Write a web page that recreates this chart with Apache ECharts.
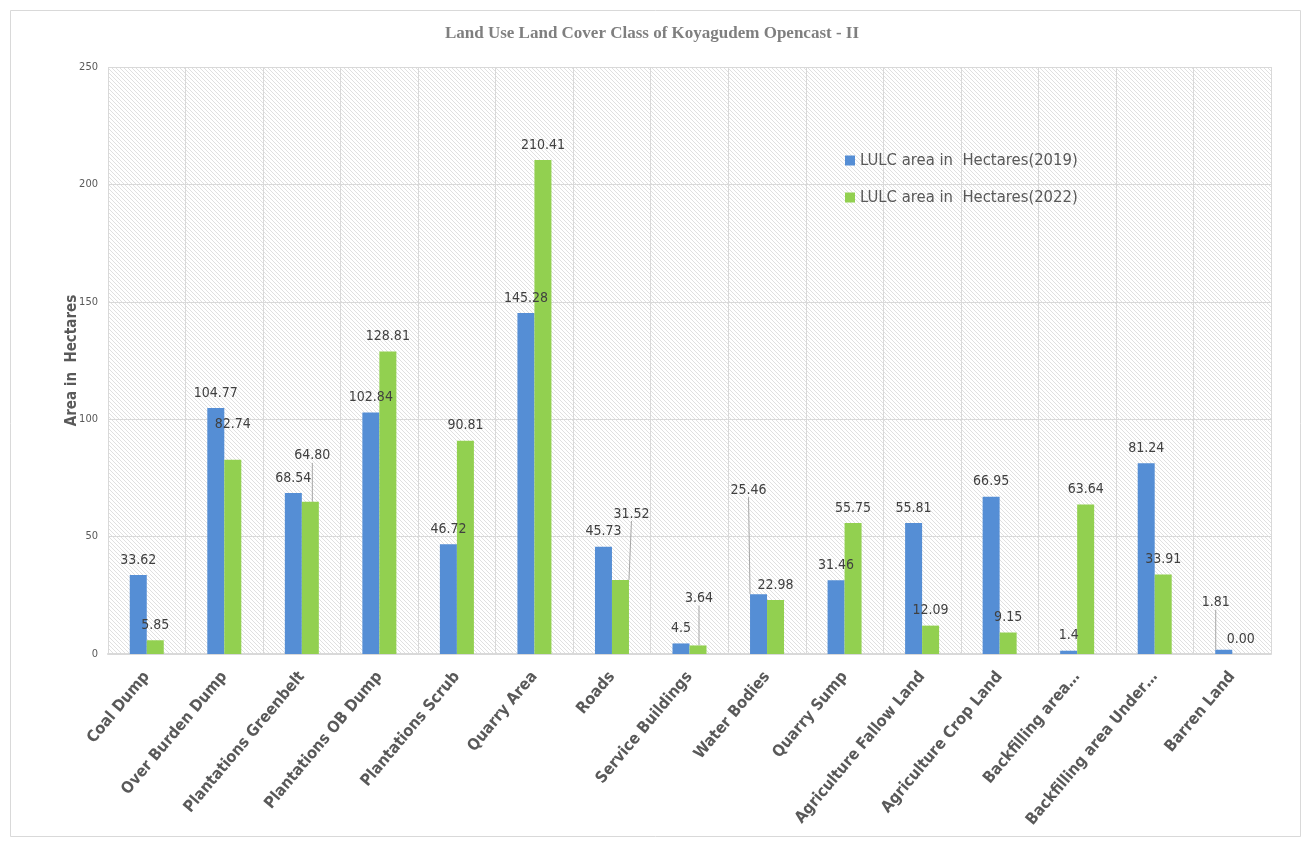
<!DOCTYPE html>
<html>
<head>
<meta charset="utf-8">
<script src="https://cdn.jsdelivr.net/npm/echarts@6/dist/echarts.min.js"></script>
<style>
html,body{margin:0;padding:0;background:#fff;}
#chart{width:1304px;height:841px;}
</style>
</head>
<body>
<div id="chart"></div>
<script>
var categories = ["Coal Dump","Over Burden Dump","Plantations Greenbelt","Plantations OB Dump","Plantations Scrub","Quarry Area","Roads","Service Buildings","Water Bodies","Quarry Sump","Agriculture Fallow Land","Agriculture Crop Land","Backfilling area\u2026","Backfilling area Under\u2026","Barren Land"];
var values2019 = [33.62,104.77,68.54,102.84,46.72,145.28,45.73,4.5,25.46,31.46,55.81,66.95,1.4,81.24,1.81];
var values2022 = [5.85,82.74,64.80,128.81,90.81,210.41,31.52,3.64,22.98,55.75,12.09,9.15,63.64,33.91,0.00];
var seriesNames = ["LULC area in  Hectares(2019)","LULC area in  Hectares(2022)"];
var yTicks = [0,50,100,150,200,250];

// label displacement (px) and leader lines, separate from data
var labelShift2019 = {8:[-10,-89],14:[-8,-32]};
var labelShift2022 = {1:[0,-20],2:[2,-31],6:[11,-51],7:[1,-32]};
var leader2019 = [8,14];
var leader2022 = [2,6,7];

var pat = document.createElement('canvas');
pat.width = 4; pat.height = 4;
var pc = pat.getContext('2d');
pc.fillStyle = '#ffffff'; pc.fillRect(0,0,4,4);
pc.fillStyle = '#e0e0e0';
for (var i=0;i<4;i++){ pc.fillRect(i,i,1,1); }

function buildData(vals, leaders){
  return vals.map(function(v,i){
    var o = {value:v};
    if (leaders.indexOf(i) >= 0) o.labelLine = {show:true};
    return o;
  });
}

var FONT = 'Liberation Sans Narrow, DejaVu Sans Condensed, Liberation Sans, sans-serif';
var chart = echarts.init(document.getElementById('chart'));
var labelFont = {show:true, position:'top', distance:8, color:'#404040', fontSize:14, fontFamily:FONT};
chart.setOption({
  animation:false,
  backgroundColor:'#ffffff',
  title:{text:'Land Use Land Cover Class of Koyagudem Opencast - II', left:'center', top:20,
    textStyle:{fontFamily:'Liberation Serif, serif', fontWeight:'bold', fontSize:17, color:'#7f7f7f'}},
  legend:{orient:'vertical', left:840, top:147, itemWidth:10, itemHeight:10, itemGap:20, icon:'rect',
    textStyle:{fontSize:16.5, color:'#595959', fontFamily:FONT},
    data:seriesNames},
  graphic:[{type:'rect', shape:{x:10.5,y:10.5,width:1290,height:826}, style:{fill:'none', stroke:'#d9d9d9', lineWidth:1}, silent:true}],
  grid:{left:108, right:33, top:67, bottom:187, show:true, backgroundColor:{image:pat, repeat:'repeat'}, borderWidth:0},
  xAxis:{type:'category', data:categories,
    axisLine:{lineStyle:{color:'#d9d9d9', width:2}}, axisTick:{show:false},
    splitLine:{show:true, lineStyle:{color:'#d9d9d9', width:1}},
    axisLabel:{rotate:50, margin:20, interval:0, fontSize:16, fontWeight:'bold', color:'#595959', fontFamily:FONT}},
  yAxis:{type:'value', min:yTicks[0], max:yTicks[yTicks.length-1], interval:50,
    name:'Area in  Hectares', nameLocation:'middle', nameGap:28, nameRotate:90, nameMoveOverlap:false,
    nameTextStyle:{fontSize:15, fontWeight:'bold', color:'#595959', fontFamily:FONT},
    axisLine:{show:false}, axisTick:{show:false},
    splitLine:{lineStyle:{color:'#d9d9d9', width:1}},
    axisLabel:{fontSize:11, color:'#595959', margin:10, fontFamily:FONT}},
  series:[
    {name:seriesNames[0], type:'bar', barWidth:17, barGap:'0%', itemStyle:{color:'#558ed5'},
     data:buildData(values2019, leader2019),
     label:Object.assign({formatter:function(p){return String(p.value);}}, labelFont),
     labelLine:{show:false, lineStyle:{color:'#a6a6a6', width:1}},
     labelLayout:function(p){var s=labelShift2019[p.dataIndex]; return s?{dx:s[0],dy:s[1]}:{};}},
    {name:seriesNames[1], type:'bar', barWidth:17, barGap:'0%', itemStyle:{color:'#92d050'},
     data:buildData(values2022, leader2022),
     label:Object.assign({formatter:function(p){return Number(p.value).toFixed(2);}}, labelFont),
     labelLine:{show:false, lineStyle:{color:'#a6a6a6', width:1}},
     labelLayout:function(p){var s=labelShift2022[p.dataIndex]; return s?{dx:s[0],dy:s[1]}:{};}}
  ]
});
</script>
</body>
</html>
